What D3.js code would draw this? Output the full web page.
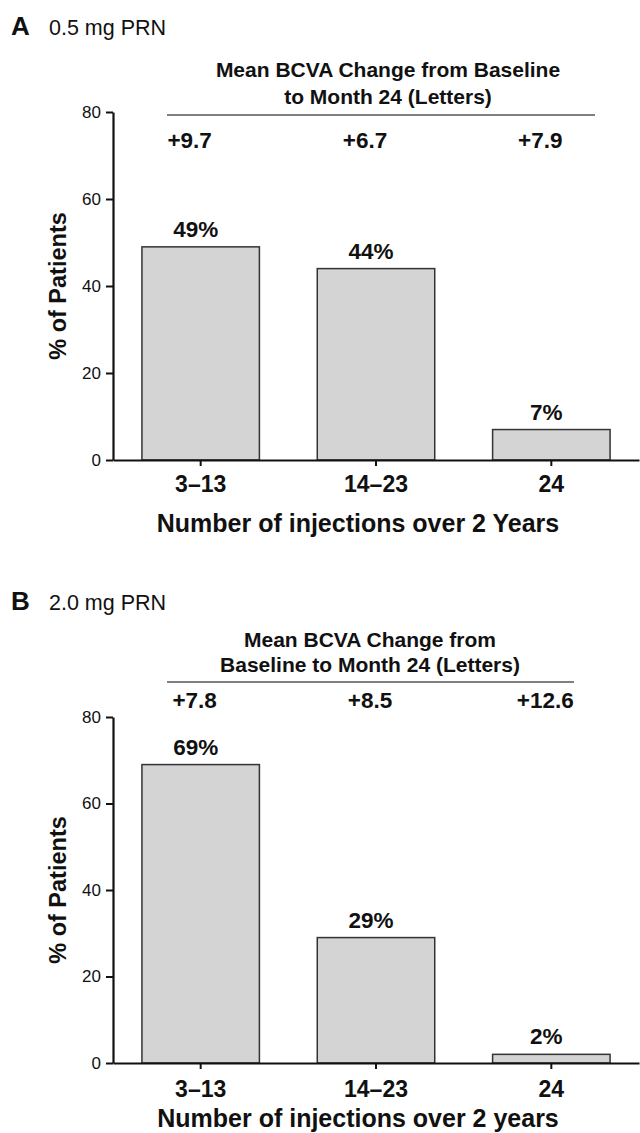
<!DOCTYPE html>
<html><head><meta charset="utf-8">
<script src="https://cdn.jsdelivr.net/npm/d3@7"></script>
<style>
body{margin:0;background:#fff;}
text{font-family:Arial,"Liberation Sans",sans-serif;fill:#111;}
</style></head>
<body>
<svg id="chart" width="640" height="1133"></svg>
<script>
const categories = ["3\u201313", "14\u201323", "24"];
const pctA = [49, 44, 7];
const pctB = [69, 29, 2];
const bcvaA = ["+9.7", "+6.7", "+7.9"];
const bcvaB = ["+7.8", "+8.5", "+12.6"];
const yTicks = [0, 20, 40, 60, 80];
const headerA = ["Mean BCVA Change from Baseline", "to Month 24 (Letters)"];
const headerB = ["Mean BCVA Change from", "Baseline to Month 24 (Letters)"];

const svg = d3.select("#chart");
const FONT = "Arial, 'Liberation Sans', sans-serif";

function panel(cfg){
  const g = svg.append("g");
  const x = d3.scaleBand().domain(categories).range([113, 639]).paddingInner(0.33).paddingOuter(0.165);
  const y = d3.scaleLinear().domain([0, 80]).range([cfg.y0, cfg.y80]);

  // panel letter and title
  g.append("text").attr("x", 11).attr("y", cfg.titleY).attr("font-size", 26).attr("font-weight", "bold").text(cfg.letter);
  g.append("text").attr("x", 49).attr("y", cfg.titleY).attr("font-size", 21.5).attr("fill", "#222").text(cfg.title);

  // header
  cfg.header.forEach((t, i) => {
    g.append("text").attr("x", cfg.headerX).attr("y", cfg.headerY[i]).attr("text-anchor", "middle")
      .attr("font-size", 21).attr("font-weight", "bold").text(t);
  });
  g.append("line").attr("x1", 167).attr("x2", cfg.lineX2).attr("y1", cfg.lineY).attr("y2", cfg.lineY)
    .attr("stroke", "#555").attr("stroke-width", 1.5);
  g.selectAll(".bcva").data(cfg.bcva).join("text")
    .attr("x", (d, i) => x(categories[i]) + x.bandwidth() / 2 + cfg.valOff)
    .attr("y", cfg.valY).attr("text-anchor", "middle").attr("font-size", 22.5).attr("font-weight", "bold").text(d => d);

  // bars
  g.selectAll(".bar").data(cfg.pct).join("rect")
    .attr("x", (d, i) => x(categories[i])).attr("width", x.bandwidth())
    .attr("y", d => y(d)).attr("height", d => y(0) - y(d))
    .attr("fill", "#d4d4d4").attr("stroke", "#333").attr("stroke-width", 1.5);
  g.selectAll(".pl").data(cfg.pct).join("text")
    .attr("x", (d, i) => x(categories[i]) + x.bandwidth() / 2 - 5)
    .attr("y", d => y(d) - 10).attr("text-anchor", "middle").attr("font-size", 22.5).attr("font-weight", "bold")
    .text(d => d + "%");

  // y axis
  const ya = g.append("g").attr("transform", "translate(113,0)")
    .call(d3.axisLeft(y).tickValues(yTicks).tickSize(7).tickPadding(5).tickSizeOuter(0));
  ya.select(".domain").attr("stroke", "#111").attr("stroke-width", 2.2);
  ya.selectAll(".tick line").attr("stroke", "#111").attr("stroke-width", 2);
  ya.selectAll(".tick text").attr("font-size", 17).attr("fill", "#222").style("font-family", FONT);

  // x axis
  const xa = g.append("g").attr("transform", `translate(0,${cfg.y0})`)
    .call(d3.axisBottom(x).tickSize(6).tickPadding(cfg.xTickPad).tickSizeOuter(0));
  xa.select(".domain").attr("stroke", "#111").attr("stroke-width", 2.2);
  xa.selectAll(".tick line").attr("stroke", "#111").attr("stroke-width", 2);
  xa.selectAll(".tick text").attr("font-size", 23).attr("font-weight", "bold").attr("fill", "#111")
    .style("font-family", FONT);

  // axis titles
  g.append("text").attr("transform", `translate(${66},${(cfg.y0 + cfg.y80) / 2}) rotate(-90)`)
    .attr("text-anchor", "middle").attr("font-size", 23.5).attr("font-weight", "bold").text("% of Patients");
  g.append("text").attr("x", 358).attr("y", cfg.xTitleY).attr("text-anchor", "middle")
    .attr("font-size", 25).attr("font-weight", "bold").text(cfg.xTitle);
}

panel({letter: "A", title: "0.5 mg PRN", titleY: 35, y0: 460, y80: 112,
  header: headerA, headerX: 388, headerY: [77, 104], lineX2: 595, lineY: 115,
  bcva: bcvaA, valY: 148, valOff: -11, pct: pctA, xTickPad: 10, xTitleY: 532,
  xTitle: "Number of injections over 2 Years"});
panel({letter: "B", title: "2.0 mg PRN", titleY: 610, y0: 1063, y80: 717,
  header: headerB, headerX: 370, headerY: [647, 672], lineX2: 574, lineY: 682,
  bcva: bcvaB, valY: 708, valOff: -6, pct: pctB, xTickPad: 12, xTitleY: 1127,
  xTitle: "Number of injections over 2 years"});
</script>
</body></html>
